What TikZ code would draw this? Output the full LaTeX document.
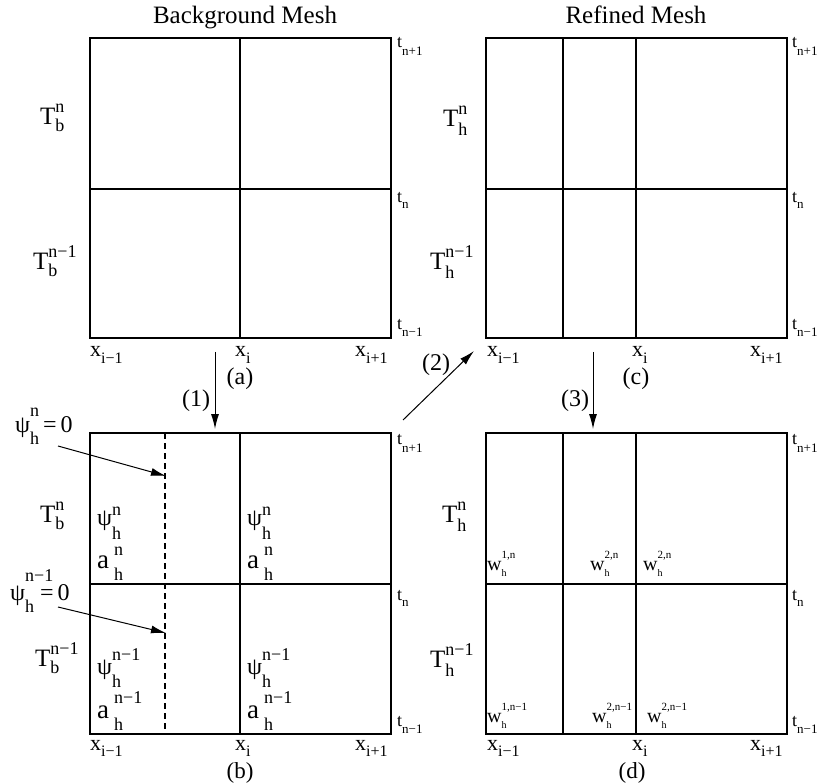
\documentclass[tikz,border=0pt]{standalone}
\usepackage{fontspec}
\setmainfont{Liberation Serif}
\usetikzlibrary{arrows.meta}
\newcommand\myfm{\fontsize{24}{28}\selectfont}
\newcommand\myfT{\fontsize{25}{28}\selectfont}
\newcommand\myfa{\fontsize{27}{30}\selectfont}
\newcommand\myfx{\fontsize{22}{26}\selectfont}
\newcommand\myfs{\fontsize{18}{20}\selectfont}
\newcommand\myfxs{\fontsize{16}{18}\selectfont}
% base, sup, sub, gap, sup raise, sub lower
\newcommand\ssl[6]{#1\hspace*{#4}\rlap{\raisebox{-#6}{\myfs #3}}\raisebox{#5}{\myfs #2}}
\newcommand\wl[1]{\fontsize{20}{22}\selectfont w\rlap{\raisebox{-6pt}{\fontsize{10}{10}\selectfont h}}\raisebox{12pt}{\fontsize{11}{11}\selectfont #1}}
\newcommand\tlab[2]{\fontsize{18}{20}\selectfont t\raisebox{-#2}{\fontsize{13}{14}\selectfont #1}}
\newcommand\xlab[1]{\myfx x\raisebox{-6pt}{\myfxs #1}}
\begin{document}
\begin{tikzpicture}[x=1pt,y=-1pt,
  lab/.style={inner sep=0pt,anchor=base west,font=\myfm},
  caplbl/.style={inner sep=0pt,font=\myfm},
  ttl/.style={inner sep=0pt,anchor=base,font=\fontsize{25}{28}\selectfont},
  mesh/.style={line width=1.2pt},
  dashline/.style={line width=1.1pt,dash pattern=on 6pt off 4pt},
  arr/.style={line width=1pt,-{Latex[length=15pt,width=8pt]}}]
\useasboundingbox (0,0) rectangle (819,783);
% ---------------- meshes
% (a)
\draw[mesh] (90,38) rectangle (391,338);
\draw[mesh] (240,38) -- (240,338) (90,189) -- (391,189);
% (c)
\draw[mesh] (486,38) rectangle (787,338);
\draw[mesh] (563,38) -- (563,338) (636,38) -- (636,338) (486,189) -- (787,189);
% (b)
\draw[mesh] (90,433) rectangle (391,734);
\draw[mesh] (240,433) -- (240,734) (90,584) -- (391,584);
\draw[dashline] (165,433) -- (165,734);
% (d)
\draw[mesh] (486,433) rectangle (787,734);
\draw[mesh] (563,433) -- (563,734) (636,433) -- (636,734) (486,584) -- (787,584);
% ---------------- titles
\node[ttl] (ttlA) at (245,24) {Background Mesh};
\node[ttl] (ttlC) at (636,24) {Refined Mesh};
% ---------------- T labels
\node[lab] (Tan)  at (40,125) {\ssl{\myfT T}{n}{b}{0pt}{12pt}{7pt}};
\node[lab] (Tan1) at (33,270) {\ssl{\myfT T}{n−1}{b}{0pt}{12pt}{7pt}};
\node[lab] (Tbn)  at (40,522) {\ssl{\myfT T}{n}{b}{0pt}{12pt}{7pt}};
\node[lab] (Tbn1) at (35,666) {\ssl{\myfT T}{n−1}{b}{0pt}{12pt}{7pt}};
\node[lab] (Tcn)  at (443,127) {\ssl{\myfT T}{n}{h}{0pt}{12pt}{9pt}};
\node[lab] (Tcn1) at (430,270) {\ssl{\myfT T}{n−1}{h}{0pt}{12pt}{9pt}};
\node[lab] (Tdn)  at (442,522) {\ssl{\myfT T}{n}{h}{0pt}{12pt}{9pt}};
\node[lab] (Tdn1) at (430,667) {\ssl{\myfT T}{n−1}{h}{0pt}{12pt}{9pt}};
% ---------------- t labels
\node[lab] (ta1) at (397,48)  {\tlab{n+1}{8pt}};
\node[lab] (ta2) at (397,203) {\tlab{n}{6pt}};
\node[lab] (ta3) at (397,330) {\tlab{n−1}{7pt}};
\node[lab] (tb1) at (397,444) {\tlab{n+1}{8pt}};
\node[lab] (tb2) at (397,600) {\tlab{n}{6pt}};
\node[lab] (tb3) at (397,726) {\tlab{n−1}{7pt}};
\node[lab] (tc1) at (792,48)  {\tlab{n+1}{8pt}};
\node[lab] (tc2) at (792,203) {\tlab{n}{6pt}};
\node[lab] (tc3) at (792,330) {\tlab{n−1}{7pt}};
\node[lab] (td1) at (792,444) {\tlab{n+1}{8pt}};
\node[lab] (td2) at (792,600) {\tlab{n}{6pt}};
\node[lab] (td3) at (792,726) {\tlab{n−1}{7pt}};
% ---------------- x labels
\node[lab] (xa1) at (90,357)  {\xlab{i−1}};
\node[lab] (xa2) at (235,357) {\xlab{i}};
\node[lab] (xa3) at (355,357) {\xlab{i+1}};
\node[lab] (xc1) at (487,357) {\xlab{i−1}};
\node[lab] (xc2) at (632,357) {\xlab{i}};
\node[lab] (xc3) at (750,357) {\xlab{i+1}};
\node[lab] (xb1) at (90,750)  {\xlab{i−1}};
\node[lab] (xb2) at (235,750) {\xlab{i}};
\node[lab] (xb3) at (355,750) {\xlab{i+1}};
\node[lab] (xd1) at (487,750) {\xlab{i−1}};
\node[lab] (xd2) at (632,750) {\xlab{i}};
\node[lab] (xd3) at (750,750) {\xlab{i+1}};
% ---------------- panel captions
\node[caplbl] (capa) at (240,379) {(a)};
\node[caplbl] (capc) at (636,379) {(c)};
\node[caplbl,font=\fontsize{23}{26}\selectfont] (capb) at (240,773) {(b)};
\node[caplbl,font=\fontsize{23}{26}\selectfont] (capd) at (632,773) {(d)};
% ---------------- step arrows
\coordinate (s1a) at (215,352); \coordinate (s1b) at (215,429);
\coordinate (s2a) at (403,420); \coordinate (s2b) at (474,351);
\coordinate (s3a) at (593,352); \coordinate (s3b) at (593,429);
\draw[arr] (s1a) -- (s1b);
\draw[arr] (s2a) -- (s2b);
\draw[arr] (s3a) -- (s3b);
\node[caplbl] (st1) at (196,401) {(1)};
\node[caplbl] (st2) at (436,365) {(2)};
\node[caplbl] (st3) at (575,401) {(3)};
% ---------------- psi / a labels in (b)
\node[lab] (psL1) at (97,525)  {\ssl{ψ}{n}{h}{0pt}{10pt}{14pt}};
\node[lab] (aL1)  at (97,568)  {\ssl{\myfa a}{n}{h}{5pt}{13pt}{12pt}};
\node[lab] (psL2) at (97,674)  {\ssl{ψ}{n−1}{h}{0pt}{14pt}{13pt}};
\node[lab] (aL2)  at (97,718)  {\ssl{\myfa a}{n−1}{h}{5pt}{15pt}{12pt}};
\node[lab] (psR1) at (247,525) {\ssl{ψ}{n}{h}{0pt}{10pt}{14pt}};
\node[lab] (aR1)  at (247,568) {\ssl{\myfa a}{n}{h}{5pt}{13pt}{12pt}};
\node[lab] (psR2) at (247,674) {\ssl{ψ}{n−1}{h}{0pt}{14pt}{13pt}};
\node[lab] (aR2)  at (247,718) {\ssl{\myfa a}{n−1}{h}{5pt}{15pt}{12pt}};
% ---------------- psi = 0 annotations
\node[lab] (z1) at (15,432) {ψ\rlap{\raisebox{16pt}{\myfs n}}\raisebox{-12pt}{\myfs h}\,=\,0};
\node[lab] (z2) at (10,600) {ψ\rlap{\raisebox{19pt}{\myfs n−1}}\raisebox{-12pt}{\myfs h}\hspace{6pt}=\,0};
\coordinate (z1a) at (58,446); \coordinate (z1b) at (166,476);
\coordinate (z2a) at (58,607); \coordinate (z2b) at (166,633);
\draw[arr] (z1a) -- (z1b);
\draw[arr] (z2a) -- (z2b);
% ---------------- w labels in (d)
\node[lab] (w1) at (487,570) {\wl{1,n}};
\node[lab] (w2) at (590,570) {\wl{2,n}};
\node[lab] (w3) at (643,570) {\wl{2,n}};
\node[lab] (w4) at (487,722) {\wl{1,n−1}};
\node[lab] (w5) at (592,722) {\wl{2,n−1}};
\node[lab] (w6) at (647,722) {\wl{2,n−1}};
\end{tikzpicture}
\end{document}
